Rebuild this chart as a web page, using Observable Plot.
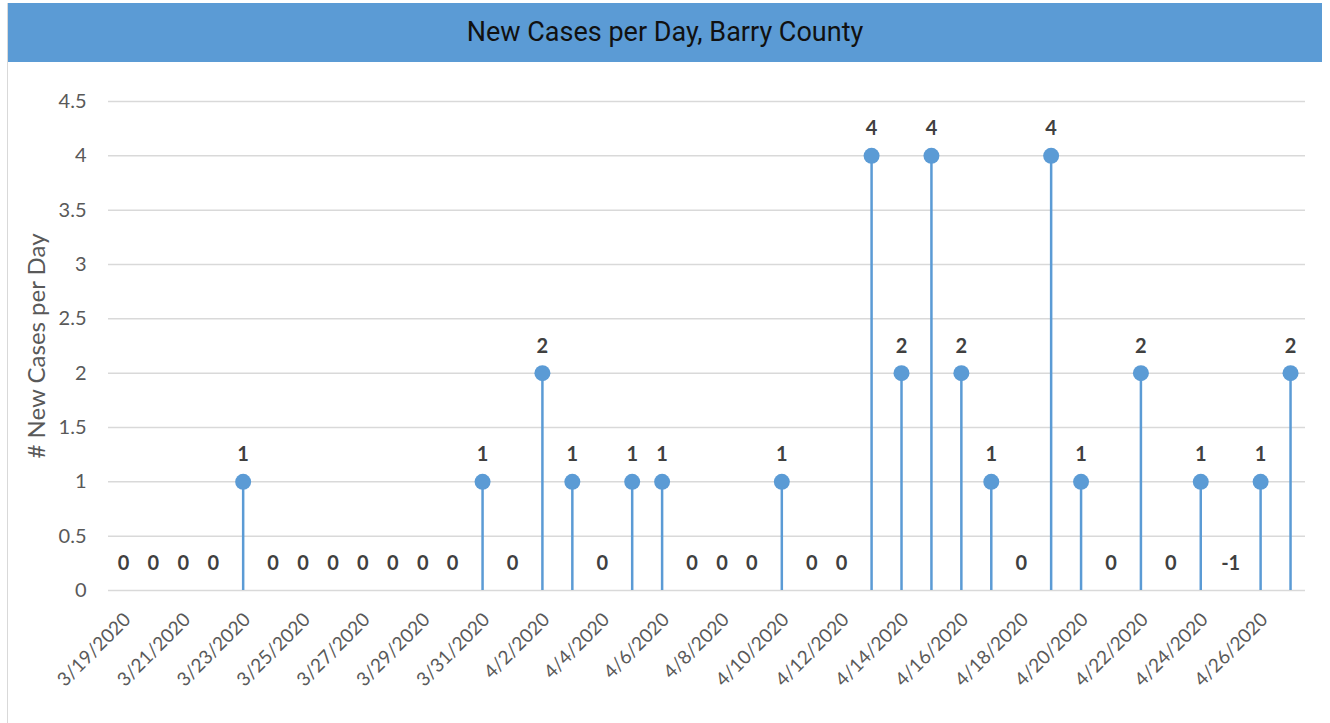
<!DOCTYPE html>
<html>
<head>
<meta charset="utf-8">
<script src="https://cdn.jsdelivr.net/npm/d3@7"></script>
<script src="https://cdn.jsdelivr.net/npm/@observablehq/plot@0.6"></script>
<style>
  body { margin: 0; background: #fff; }
  #wrap { position: relative; width: 1330px; height: 723px; overflow: hidden; background: #fff; }
  #border { position: absolute; left: 7px; top: 3px; width: 1px; height: 720px; background: #d9d9d9; }
  #title { position: absolute; left: 8px; top: 3px; width: 1314px; height: 59px; background: #5B9BD5;
           color: #111; font-family: "Roboto", sans-serif; font-size: 27px;
           line-height: 59px; text-align: center; }
  #ylabel { position: absolute; left: 35px; top: 346px; transform: translate(-50%, -50%) rotate(-90deg);
            white-space: nowrap; font-family: Lato, sans-serif; font-size: 24px; color: #595959; }
  #chart { position: absolute; left: 0; top: 62px; }
</style>
</head>
<body>
<div id="wrap">
  <div id="border"></div>
  <div id="title">New Cases per Day, Barry County</div>
  <div id="chart"></div>
  <div id="ylabel"># New Cases per Day</div>
</div>
<script>
const dates = [
  "3/19/2020","3/20/2020","3/21/2020","3/22/2020","3/23/2020","3/24/2020","3/25/2020","3/26/2020",
  "3/27/2020","3/28/2020","3/29/2020","3/30/2020","3/31/2020","4/1/2020","4/2/2020","4/3/2020",
  "4/4/2020","4/5/2020","4/6/2020","4/7/2020","4/8/2020","4/9/2020","4/10/2020","4/11/2020",
  "4/12/2020","4/13/2020","4/14/2020","4/15/2020","4/16/2020","4/17/2020","4/18/2020","4/19/2020",
  "4/20/2020","4/21/2020","4/22/2020","4/23/2020","4/24/2020","4/25/2020","4/26/2020","4/27/2020"
];
const values = [
  0, 0, 0, 0, 1, 0, 0, 0,
  0, 0, 0, 0, 1, 0, 2, 1,
  0, 1, 1, 0, 0, 0, 1, 0,
  0, 4, 2, 4, 2, 1, 0, 4,
  1, 0, 2, 0, 1, -1, 1, 2
];
const xTickLabels = [
  "3/19/2020","3/21/2020","3/23/2020","3/25/2020","3/27/2020","3/29/2020","3/31/2020",
  "4/2/2020","4/4/2020","4/6/2020","4/8/2020","4/10/2020","4/12/2020","4/14/2020",
  "4/16/2020","4/18/2020","4/20/2020","4/22/2020","4/24/2020","4/26/2020"
];
const yTicks = [0, 0.5, 1, 1.5, 2, 2.5, 3, 3.5, 4, 4.5];

const data = dates.map((d, i) => ({date: d, value: values[i]}));
const positive = data.filter(d => d.value > 0);

const chart = Plot.plot({
  width: 1330,
  height: 661,
  marginTop: 39,
  marginBottom: 133,
  marginLeft: 108,
  marginRight: 25,
  style: {fontFamily: "Lato, sans-serif", fontSize: "19px", color: "#595959", background: "transparent"},
  x: {type: "band", domain: dates, padding: 0},
  y: {domain: [0, 4.5]},
  marks: [
    Plot.gridY(yTicks, {stroke: "#d9d9d9", strokeOpacity: 1, strokeWidth: 1.5}),
    Plot.axisY(yTicks, {tickSize: 0, tickPadding: 22, tickFormat: d => String(d), label: null, fill: "#595959", fontSize: 20}),
    Plot.axisX(xTickLabels, {tickSize: 0, tickPadding: 26, dx: 4, tickRotate: -45, label: null, fill: "#595959"}),
    Plot.ruleX(positive, {x: "date", y1: 0, y2: "value", stroke: "#5B9BD5", strokeWidth: 2.5}),
    Plot.dot(positive, {x: "date", y: "value", r: 8, fill: "#5B9BD5", stroke: "none"}),
    Plot.text(data, {x: "date", y: d => Math.max(d.value, 0), dy: -27, text: d => String(d.value),
      fontWeight: "bold", fontSize: 20, fill: "#404040"})
  ]
});
document.getElementById("chart").appendChild(chart);
</script>
</body>
</html>
